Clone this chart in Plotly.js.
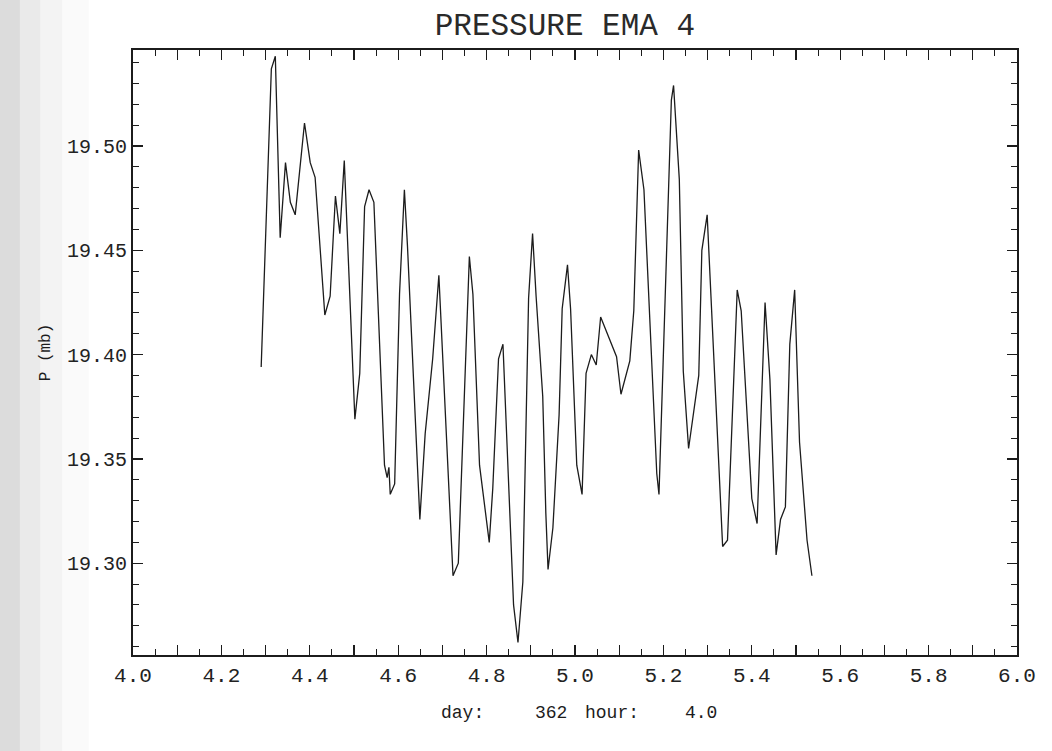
<!DOCTYPE html>
<html>
<head>
<meta charset="utf-8">
<script src="https://cdn.plot.ly/plotly-3.0.1.min.js"></script>
<style>
  html, body { margin: 0; padding: 0; background: #ffffff; }
  #chart { width: 1052px; height: 751px; }
</style>
</head>
<body>
<div id="chart"></div>
<script>
// Time (day fraction) and pressure (mb)
const dayTime = [
  4.290, 4.313, 4.322, 4.333, 4.345, 4.356, 4.367, 4.388, 4.401, 4.412,
  4.434, 4.446, 4.458, 4.468, 4.478, 4.502, 4.513, 4.524, 4.534, 4.545,
  4.569, 4.575, 4.579, 4.582, 4.592, 4.603, 4.614, 4.621, 4.649, 4.661,
  4.678, 4.692, 4.724, 4.736, 4.761, 4.769, 4.784, 4.806, 4.814, 4.827,
  4.837, 4.861, 4.871, 4.882, 4.895, 4.904, 4.912, 4.927, 4.934, 4.939,
  4.950, 4.964, 4.971, 4.983, 4.990, 5.004, 5.016, 5.025, 5.037, 5.048,
  5.058, 5.094, 5.104, 5.124, 5.133, 5.144, 5.156, 5.185, 5.190, 5.200,
  5.218, 5.223, 5.236, 5.245, 5.257, 5.280, 5.287, 5.299, 5.334, 5.345,
  5.367, 5.376, 5.400, 5.412, 5.430, 5.441, 5.455, 5.465, 5.476, 5.486,
  5.497, 5.508, 5.525, 5.536
];
const pressure = [
  19.394, 19.537, 19.543, 19.456, 19.492, 19.473, 19.467, 19.511, 19.492, 19.485,
  19.419, 19.428, 19.476, 19.458, 19.493, 19.369, 19.391, 19.471, 19.479, 19.473,
  19.347, 19.341, 19.346, 19.333, 19.338, 19.429, 19.479, 19.452, 19.321, 19.362,
  19.398, 19.438, 19.294, 19.300, 19.447, 19.429, 19.347, 19.310, 19.336, 19.398,
  19.405, 19.280, 19.262, 19.291, 19.427, 19.458, 19.428, 19.380, 19.324, 19.297,
  19.317, 19.371, 19.422, 19.443, 19.422, 19.347, 19.333, 19.391, 19.400, 19.395,
  19.418, 19.399, 19.381, 19.397, 19.421, 19.498, 19.479, 19.343, 19.333, 19.404,
  19.522, 19.529, 19.484, 19.392, 19.355, 19.390, 19.450, 19.467, 19.308, 19.311,
  19.431, 19.421, 19.331, 19.319, 19.425, 19.388, 19.304, 19.321, 19.327, 19.405,
  19.431, 19.358, 19.311, 19.294
];

const xTickVals = [4.0, 4.1, 4.2, 4.3, 4.4, 4.5, 4.6, 4.7, 4.8, 4.9, 5.0,
                   5.1, 5.2, 5.3, 5.4, 5.5, 5.6, 5.7, 5.8, 5.9, 6.0];
const xTickText = ['4.0', '', '4.2', '', '4.4', '', '4.6', '', '4.8', '', '5.0',
                   '', '5.2', '', '5.4', '', '5.6', '', '5.8', '', '6.0'];
const yTickVals = [19.30, 19.35, 19.40, 19.45, 19.50];
const yTickText = ['19.30', '19.35', '19.40', '19.45', '19.50'];

const chartTitle = 'PRESSURE EMA 4';
const yTitle = 'P (mb)';
const footerTexts = ['day:', '362', 'hour:', '4.0'];
const footerPos = [0.373, 0.473, 0.542, 0.643];

const ink = '#1c1c1c';
const plotFont = 'Liberation Mono, DejaVu Sans Mono, monospace';

const trace = {
  x: dayTime,
  y: pressure,
  type: 'scatter',
  mode: 'lines',
  line: { color: ink, width: 1.3 },
  hoverinfo: 'x+y'
};

const annotations = footerTexts.map((t, i) => ({
  text: t,
  xref: 'paper', yref: 'paper',
  x: footerPos[i], y: -0.096,
  xanchor: 'center', yanchor: 'middle',
  showarrow: false,
  font: { family: plotFont, size: 18, color: ink }
}));

// faint grey scan shading on the far left of the page
const shades = [
  [-0.1505, -0.128, 'rgba(140,140,140,0.30)'],
  [-0.128, -0.105, 'rgba(150,150,150,0.20)'],
  [-0.105, -0.080, 'rgba(160,160,160,0.12)'],
  [-0.080, -0.050, 'rgba(170,170,170,0.06)']
].map(s => ({
  type: 'rect', xref: 'paper', yref: 'paper',
  x0: s[0], x1: s[1], y0: -0.17, y1: 1.09,
  fillcolor: s[2], line: { width: 0 }, layer: 'below'
}));

const layout = {
  width: 1052,
  height: 751,
  margin: { l: 133, r: 35, t: 50, b: 96 },
  paper_bgcolor: '#ffffff',
  plot_bgcolor: '#ffffff',
  showlegend: false,
  title: {
    text: chartTitle,
    font: { family: plotFont, size: 31, color: '#2a2a2a' },
    xref: 'container', yref: 'container',
    x: 0.537, y: 0.968, xanchor: 'center', yanchor: 'middle'
  },
  xaxis: {
    range: [4.0, 6.0],
    tickmode: 'array',
    tickvals: xTickVals,
    ticktext: xTickText,
    ticks: 'inside', ticklen: 10, tickwidth: 1.3, tickcolor: ink,
    minor: { tickmode: 'linear', tick0: 4.0, dtick: 0.05, ticks: 'inside', ticklen: 6, tickwidth: 1, tickcolor: ink, showgrid: false },
    showline: true, linecolor: ink, linewidth: 2, mirror: 'ticks',
    showgrid: false, zeroline: false,
    tickfont: { family: plotFont, size: 21, color: '#222' }
  },
  yaxis: {
    range: [19.256, 19.546],
    tickmode: 'array',
    tickvals: yTickVals,
    ticktext: yTickText,
    ticks: 'inside', ticklen: 10, tickwidth: 1.3, tickcolor: ink,
    minor: { tickmode: 'linear', tick0: 19.30, dtick: 0.01, ticks: 'inside', ticklen: 6, tickwidth: 1, tickcolor: ink, showgrid: false },
    showline: true, linecolor: ink, linewidth: 2, mirror: 'ticks',
    showgrid: false, zeroline: false,
    tickfont: { family: plotFont, size: 20, color: '#222' },
    title: { text: yTitle, standoff: 12, font: { family: plotFont, size: 16, color: ink } }
  },
  annotations: annotations,
  shapes: shades
};

Plotly.newPlot('chart', [trace], layout, { displayModeBar: false, staticPlot: true });
</script>
</body>
</html>
